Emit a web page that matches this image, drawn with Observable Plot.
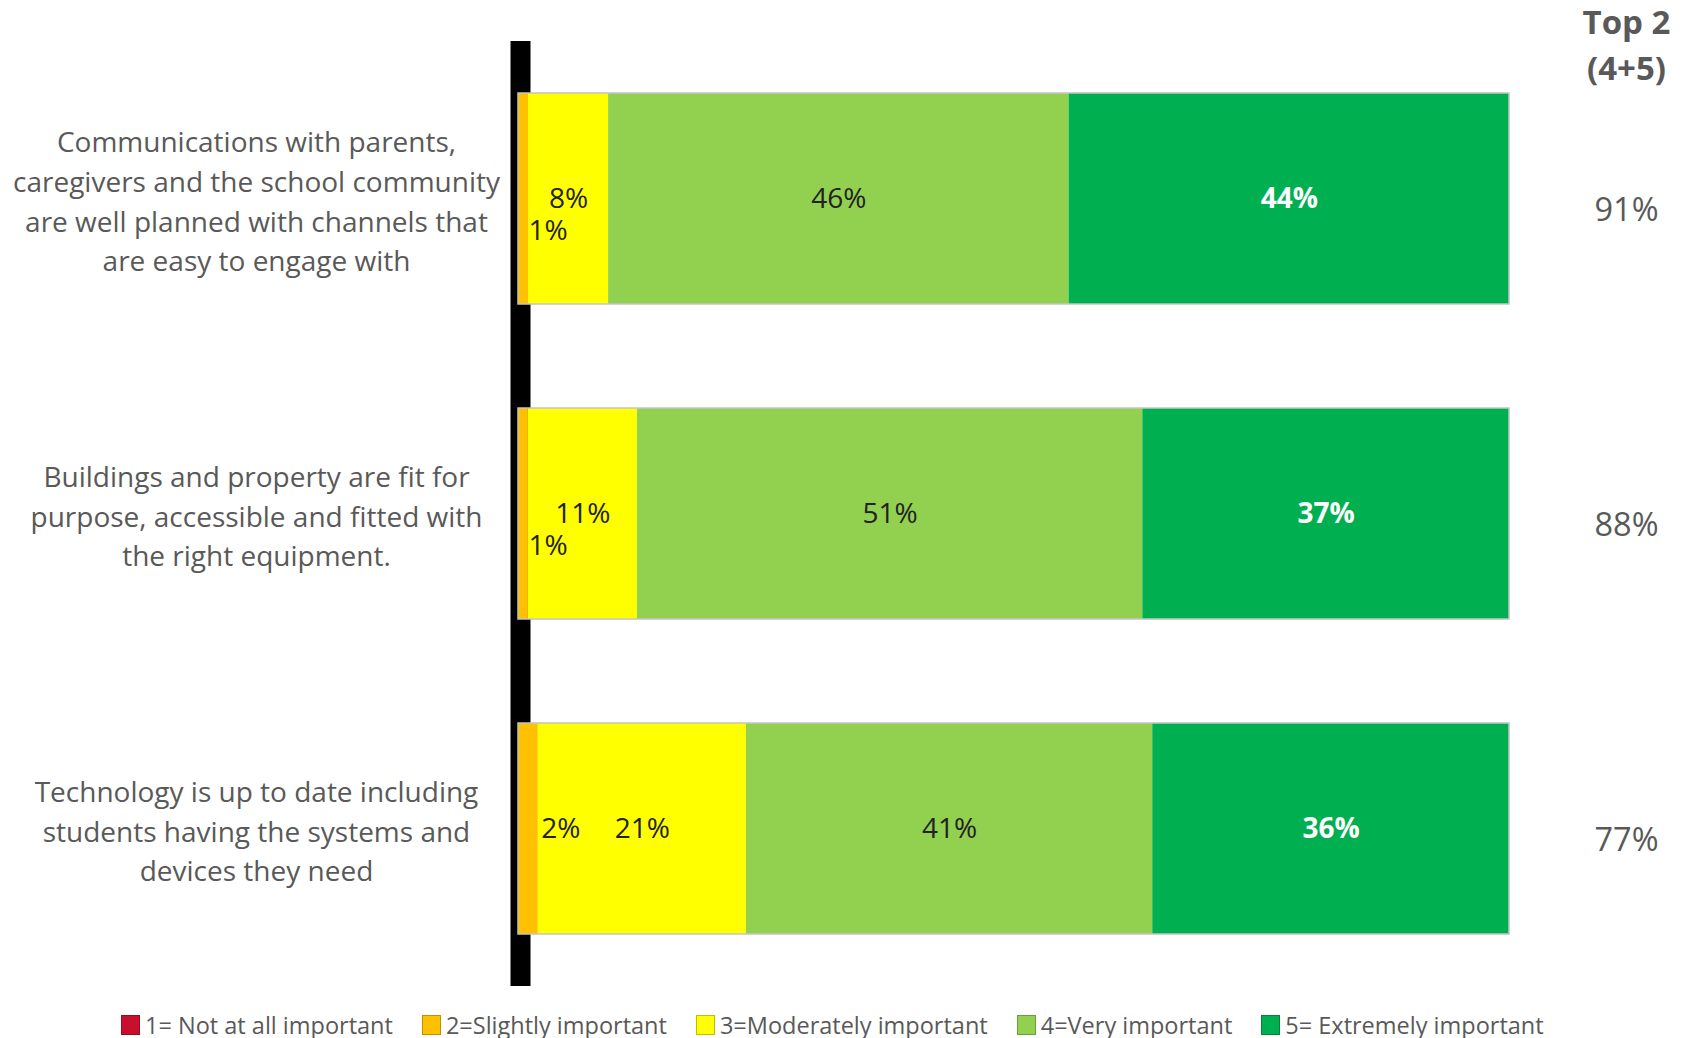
<!DOCTYPE html>
<html>
<head>
<meta charset="utf-8">
<script src="https://cdn.jsdelivr.net/npm/d3@7"></script>
<script src="https://cdn.jsdelivr.net/npm/@observablehq/plot@0.6"></script>
<style>
  html, body { margin: 0; padding: 0; background: #fff; overflow: hidden; }
  #chart svg { display: block; }
  #legend { display: flex; align-items: center; height: 26px; line-height: 26px; margin-top: 12px; margin-left: 121px;
            font-family: "Open Sans", sans-serif; font-size: 23.5px; color: #595959; white-space: nowrap; }
  #legend .item { display: flex; align-items: center; margin-right: 29px; }
  #legend .sw { width: 19px; height: 20px; margin-right: 5px; box-sizing: border-box; border: 1px solid rgba(0,0,0,0.25); }
</style>
</head>
<body>
<div id="chart"></div>
<div id="legend"></div>
<script>
const categories = [
  "Communications with parents,\ncaregivers and the school community\nare well planned with channels that\nare easy to engage with",
  "Buildings and property are fit for\npurpose, accessible and fitted with\nthe right equipment.",
  "Technology is up to date including\nstudents having the systems and\ndevices they need"
];
const levels = ["1= Not at all important", "2=Slightly important", "3=Moderately important", "4=Very important", "5= Extremely important"];
const levelColors = ["#C8102E", "#FFC000", "#FFFF00", "#92D050", "#00B050"];
const notAtAll   = [0, 0, 0];
const slightly   = [1, 1, 2];
const moderately = [8, 11, 21];
const very       = [46, 51, 41];
const extremely  = [44, 37, 36];
const top2       = [91, 88, 77];
const top2Header = "Top 2\n(4+5)";

const series = [notAtAll, slightly, moderately, very, extremely];
const data = categories.flatMap((c, i) => levels.map((l, j) => ({category: c, level: l, value: series[j][i]})));
const totals = categories.map((c, i) => ({category: c, total: d3.sum(series, s => s[i])}));
const top2Rows = categories.map((c, i) => ({category: c, value: top2[i]}));
const modByCat = new Map(categories.map((c, i) => [c, moderately[i]]));
const isSmall = d => d.value > 0 && d.value < 5;

const font = "Open Sans";
const stackOpts = {x: "value", y: "category", offset: "normalize"};

const chart = Plot.plot({
  width: 1686,
  height: 1000,
  marginLeft: 518,
  marginRight: 177,
  marginTop: 41,
  marginBottom: 14,
  style: {fontFamily: font, background: "#fff"},
  x: {domain: [0, 1], axis: null},
  y: {domain: categories, axis: null, paddingInner: 0.331, paddingOuter: 0.163},
  color: {domain: levels, range: levelColors},
  marks: [
    Plot.ruleX([0], {stroke: "#000", strokeWidth: 20, dx: 2}),
    Plot.barX(data, Plot.stackX({...stackOpts, fill: "level"})),
    Plot.barX(totals, Plot.stackX({x: "total", y: "category", offset: "normalize", fill: "none", stroke: "#c4c4c4", strokeWidth: 1.5})),
    // mid labels (dark)
    Plot.text(data, Plot.stackX({...stackOpts,
      text: d => (d.value >= 5 && d.level !== levels[4]) ? `${d.value}%` : "",
      fill: "#222", fontSize: 28})),
    // mid labels (white on dark green)
    Plot.text(data, Plot.stackX({...stackOpts,
      text: d => (d.value >= 5 && d.level === levels[4]) ? `${d.value}%` : "",
      fill: "#fff", fontWeight: 700, fontSize: 28})),
    // small labels pushed down when neighbour is narrow
    Plot.text(data, Plot.stackX2({...stackOpts,
      text: d => (isSmall(d) && modByCat.get(d.category) < 15) ? `${d.value}%` : "",
      textAnchor: "start", dx: 0, dy: 32, fill: "#222", fontSize: 28})),
    Plot.text(data, Plot.stackX2({...stackOpts,
      text: d => (isSmall(d) && modByCat.get(d.category) >= 15) ? `${d.value}%` : "",
      textAnchor: "start", dx: 3, dy: 0, fill: "#222", fontSize: 28})),
    // category labels
    Plot.text(categories, {y: d => d, text: d => d, frameAnchor: "left", dx: -262, textAnchor: "middle",
      lineHeight: 1.42, fontSize: 28, fill: "#595959"}),
    // top 2 values
    Plot.text(top2Rows, {y: "category", text: d => `${d.value}%`, frameAnchor: "right", dx: 117, dy: 12,
      textAnchor: "middle", fontSize: 32.5, fill: "#595959"}),
    // header
    Plot.text([top2Header], {text: d => d, frameAnchor: "top-right", dx: 117, dy: 1, lineAnchor: "middle",
      textAnchor: "middle", lineHeight: 1.37, fontSize: 33, fontWeight: 700, fill: "#595959"})
  ]
});
document.getElementById("chart").appendChild(chart);

const legend = document.getElementById("legend");
levels.forEach((l, i) => {
  const item = document.createElement("div");
  item.className = "item";
  const sw = document.createElement("span");
  sw.className = "sw";
  sw.style.background = levelColors[i];
  const t = document.createElement("span");
  t.textContent = l;
  item.appendChild(sw);
  item.appendChild(t);
  legend.appendChild(item);
});
</script>
</body>
</html>
